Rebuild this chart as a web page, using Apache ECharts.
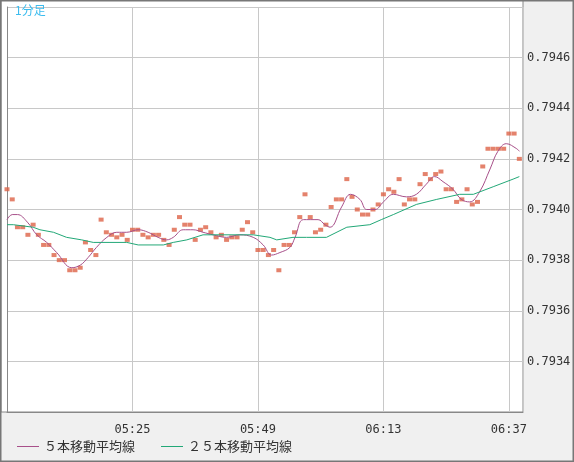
<!DOCTYPE html>
<html><head><meta charset="utf-8">
<script src="https://cdn.jsdelivr.net/npm/echarts@6/dist/echarts.min.js"></script>
<style>html,body{margin:0;padding:0;background:#f0f0f0}#c{width:574px;height:462px}</style>
</head><body><div id="c"></div>
<script>
const startTime = '05:01';
const xTickLabels = ['05:25','05:49','06:13','06:37'];
const yTickLabels = ['0.7934','0.7936','0.7938','0.7940','0.7942','0.7944','0.7946'];
const closes = [0.79408,0.79404,0.79393,0.79393,0.79390,0.79394,0.79390,0.79386,0.79386,0.79382,
0.79380,0.79380,0.79376,0.79376,0.79377,0.79387,0.79384,0.79382,0.79396,0.79391,
0.79390,0.79389,0.79390,0.79388,0.79392,0.79392,0.79390,0.79389,0.79390,0.79390,
0.79388,0.79386,0.79392,0.79397,0.79394,0.79394,0.79388,0.79392,0.79393,0.79391,
0.79389,0.79390,0.79388,0.79389,0.79389,0.79392,0.79395,0.79391,0.79384,0.79384,
0.79382,0.79384,0.79376,0.79386,0.79386,0.79391,0.79397,0.79406,0.79397,0.79391,
0.79392,0.79394,0.79401,0.79404,0.79404,0.79412,0.79405,0.79400,0.79398,0.79398,
0.79400,0.79402,0.79406,0.79408,0.79407,0.79412,0.79402,0.79404,0.79404,0.79410,
0.79414,0.79412,0.79414,0.79415,0.79408,0.79408,0.79403,0.79404,0.79408,0.79402,
0.79403,0.79417,0.79424,0.79424,0.79424,0.79424,0.79430,0.79430,0.79420];
const ma5 = [[0,0.79396],[1,0.79398],[2,0.79398],[3.9,0.79395],[5.7,0.79390],[7.6,0.79387],[9.5,0.79383],
[12.4,0.79377],[14,0.79378],[15.5,0.79381],[17.1,0.79385],[19.1,0.79389],[21,0.79391],[22.9,0.79391],
[25.1,0.79392],[27,0.79391],[28.9,0.79389],[30.5,0.79388],[31.8,0.79389],[33.7,0.79392],[35.6,0.79392],
[37.5,0.79391],[39.4,0.79390],[42,0.79389],[44.5,0.79390],[47.1,0.79389],[49,0.79386],[50.6,0.79382],
[52.2,0.79383],[54.1,0.79385],[55.1,0.79389],[56.7,0.79396],[59.5,0.79396],[60.8,0.79394],[61.8,0.79393],
[64,0.79401],[65.7,0.79406],[67.5,0.79404],[68.8,0.79400],[70.4,0.79400],[72,0.79403],[73.9,0.79406],
[76.4,0.79405],[78.3,0.79406],[80.2,0.79410],[81.8,0.79413],[83.4,0.79411],[85.3,0.79408],[86.9,0.79404],
[88.5,0.79403],[90.4,0.79407],[92.4,0.79416],[93.9,0.79423],[95.5,0.79426],[97.5,0.79424],[98,0.79423]];
const ma25 = [[0,0.79394],[1.2,0.79394],[5,0.79393],[6.3,0.79392],[8.9,0.79391],[11.4,0.79389],[14.3,0.79388],
[16.5,0.79387],[19.7,0.79387],[22.9,0.79387],[25.1,0.79386],[29.9,0.79386],[31.8,0.79387],[34.4,0.79388],
[37.5,0.79390],[40.7,0.79390],[47.1,0.79390],[50.3,0.79389],[51.6,0.79388],[54.7,0.79389],[57.3,0.79389],
[61.1,0.79389],[65,0.79393],[69.4,0.79394],[71.6,0.79396],[73.9,0.79398],[78.3,0.79402],[82.2,0.79404],
[86.6,0.79406],[89.2,0.79406],[93,0.79409],[96.8,0.79412],[98,0.79413]];

function fmtTime(i){const [h,m]=startTime.split(':').map(Number);const t=h*60+m+Math.round(i);
return String(Math.floor(t/60)).padStart(2,'0')+':'+String(t%60).padStart(2,'0');}
const chart = echarts.init(document.getElementById('c'));
chart.setOption({
  backgroundColor:'#f0f0f0',
  animation:false,
  textStyle:{fontFamily:'DejaVu Sans Mono'},
  graphic:[
    {type:'rect',z:-10,shape:{x:1,y:0,width:522,height:412},style:{fill:'#fff',stroke:'#888',lineWidth:1}},
    {type:'rect',z:100,shape:{x:0.5,y:0.5,width:573,height:461},style:{fill:'none',stroke:'#777',lineWidth:2}},
    {type:'text',z:100,left:15,top:4,style:{text:'1分足',fill:'#3bbcef',font:'12px "Noto Sans CJK JP"'}}
  ],
  grid:{left:7,right:51,top:7,bottom:50},
  xAxis:{type:'value',min:0,max:98.7,interval:24,
    axisLine:{show:true,lineStyle:{color:'#888'}},axisTick:{show:false},
    splitLine:{show:true,lineStyle:{color:'#c8c8c8'}},
    axisLabel:{color:'#333',fontSize:12,margin:12,showMaxLabel:false,
      formatter:v=>{const s=fmtTime(v);return xTickLabels.includes(s)?s:'';}}},
  yAxis:{type:'value',position:'right',min:0.7932,max:0.7948,interval:0.0002,
    axisLine:{show:true,lineStyle:{color:'#888'}},axisTick:{show:false},
    splitLine:{lineStyle:{color:'#c8c8c8'}},
    axisLabel:{color:'#333',fontSize:12,margin:4,
      formatter:v=>{const s=v.toFixed(4);return yTickLabels.includes(s)?s:'';}}},
  legend:{left:12,bottom:4,itemWidth:22,itemHeight:1,itemGap:26,icon:'rect',
    textStyle:{color:'#333',fontSize:13,fontFamily:'Noto Sans CJK JP'},
    data:['５本移動平均線','２５本移動平均線']},
  series:[
    {name:'price',type:'scatter',symbol:'rect',symbolSize:[5,4],itemStyle:{color:'#dd6347'},
      data:closes.map((v,i)=>[i,v]),z:3},
    {name:'５本移動平均線',type:'line',smooth:0.4,showSymbol:false,lineStyle:{color:'#a8508a',width:1},
      itemStyle:{color:'#a8508a'},data:ma5,z:4},
    {name:'２５本移動平均線',type:'line',showSymbol:false,lineStyle:{color:'#22a877',width:1},
      itemStyle:{color:'#22a877'},data:ma25,z:4}
  ]
});
</script></body></html>
